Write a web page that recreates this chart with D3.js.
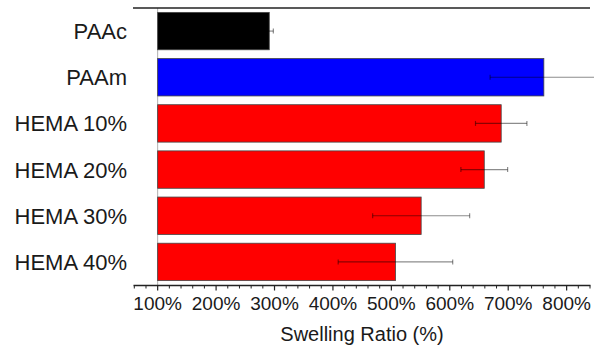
<!DOCTYPE html>
<html>
<head>
<meta charset="utf-8">
<script src="https://cdn.jsdelivr.net/npm/d3@7"></script>
<style>
  html, body { margin: 0; padding: 0; background: #fff; }
  svg { display: block; font-family: "Liberation Sans", Arial, sans-serif; }
</style>
</head>
<body>
<svg id="chart" width="594" height="349"></svg>
<script>
const categories = ["PAAc", "PAAm", "HEMA 10%", "HEMA 20%", "HEMA 30%", "HEMA 40%"];
const values = [291, 761, 688, 659, 551, 507];
const errors = [7, 92, 44, 40, 83, 98];
const colors = ["#000000", "#0000ff", "#ff0000", "#ff0000", "#ff0000", "#ff0000"];
const tickValues = [100, 200, 300, 400, 500, 600, 700, 800];

const svg = d3.select("#chart");

const x = d3.scaleLinear().domain([60, 840]).range([134.3, 590]);
const y = d3.scaleBand().domain(categories).range([8, 285]).paddingInner(0.19).paddingOuter(0.095);

const data = categories.map((c, i) => ({ c, v: values[i], e: errors[i], col: colors[i] }));

// baseline line at 100%
svg.append("line")
  .attr("x1", x(100)).attr("x2", x(100))
  .attr("y1", 8).attr("y2", 285.5)
  .attr("stroke", "#b0b0b0").attr("stroke-width", 1);

// bars
svg.selectAll("rect.bar").data(data).join("rect")
  .attr("class", "bar")
  .attr("x", x(100))
  .attr("y", d => y(d.c))
  .attr("width", d => x(d.v) - x(100))
  .attr("height", y.bandwidth())
  .attr("fill", d => d.col)
  .attr("stroke", "#444")
  .attr("stroke-width", 0.8);

// error bars
const eg = svg.append("g").attr("stroke", "#000").attr("stroke-opacity", 0.45).attr("stroke-width", 1.2);
data.forEach(d => {
  const cy = y(d.c) + y.bandwidth() / 2;
  eg.append("line").attr("x1", x(d.v - d.e)).attr("x2", x(d.v + d.e)).attr("y1", cy).attr("y2", cy);
  [d.v - d.e, d.v + d.e].forEach(v => {
    eg.append("line").attr("x1", x(v)).attr("x2", x(v)).attr("y1", cy - 2.5).attr("y2", cy + 2.5);
  });
});

// top line
svg.append("line")
  .attr("x1", 133).attr("x2", 590).attr("y1", 8).attr("y2", 8)
  .attr("stroke", "#222").attr("stroke-width", 1.5);

// bottom axis
const axisG = svg.append("g").attr("transform", "translate(0,285.5)");
axisG.append("line").attr("x1", 133.5).attr("x2", 590.5)
  .attr("stroke", "#222").attr("stroke-width", 1.5);

const minorTicks = d3.range(60, 841, 20).filter(v => tickValues.indexOf(v) < 0);
axisG.selectAll("line.minor").data(minorTicks).join("line")
  .attr("class", "minor")
  .attr("x1", d => x(d)).attr("x2", d => x(d))
  .attr("y1", 0).attr("y2", 3)
  .attr("stroke", "#222").attr("stroke-width", 1);

axisG.selectAll("line.major").data(tickValues).join("line")
  .attr("class", "major")
  .attr("x1", d => x(d)).attr("x2", d => x(d))
  .attr("y1", 0).attr("y2", 5)
  .attr("stroke", "#222").attr("stroke-width", 1.2);

svg.selectAll("text.tick").data(tickValues).join("text")
  .attr("class", "tick")
  .attr("x", d => x(d))
  .attr("y", 310)
  .attr("text-anchor", "middle")
  .attr("font-size", 19)
  .attr("fill", "#1a1a1a")
  .text(d => d + "%");

// y labels
svg.selectAll("text.cat").data(data).join("text")
  .attr("class", "cat")
  .attr("x", 127)
  .attr("y", d => y(d.c) + y.bandwidth() / 2 + 8)
  .attr("text-anchor", "end")
  .attr("font-size", 22)
  .attr("fill", "#1a1a1a")
  .text(d => d.c);

// axis title
svg.append("text")
  .attr("x", 362)
  .attr("y", 341)
  .attr("text-anchor", "middle")
  .attr("font-size", 20)
  .attr("fill", "#1a1a1a")
  .text("Swelling Ratio (%)");
</script>
</body>
</html>
